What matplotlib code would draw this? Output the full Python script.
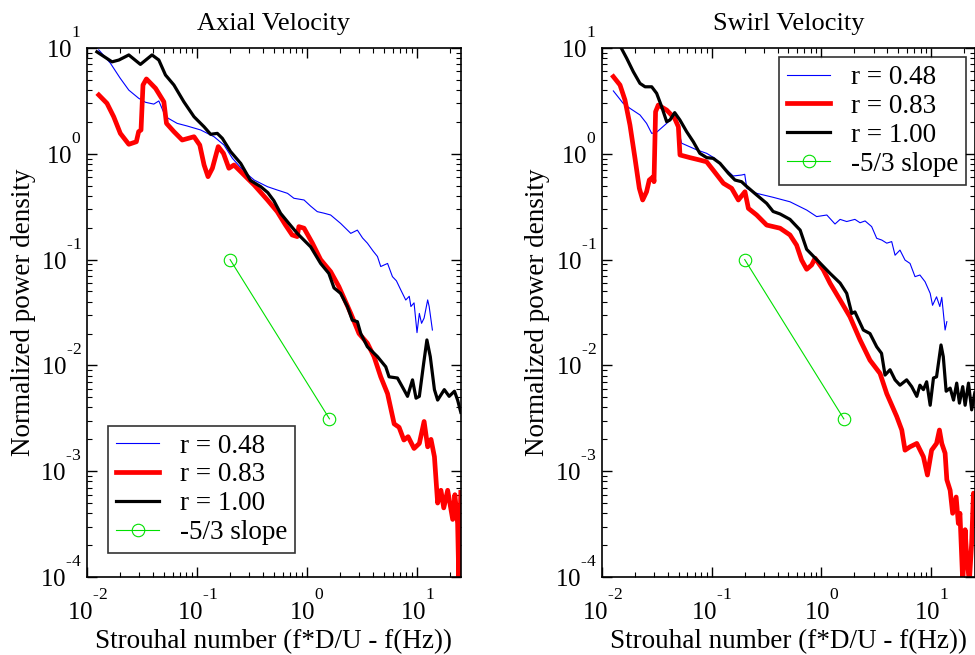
import matplotlib
matplotlib.use("Agg")
from matplotlib import pyplot as plt
from matplotlib.ticker import FuncFormatter
from matplotlib.transforms import ScaledTranslation
import numpy as np

plt.rcParams['font.family'] = ['Liberation Serif', 'DejaVu Serif']
plt.rcParams['mathtext.fontset'] = 'custom'
plt.rcParams['mathtext.rm'] = 'Liberation Serif'
plt.rcParams['mathtext.it'] = 'Liberation Serif:italic'
plt.rcParams['mathtext.bf'] = 'Liberation Serif:bold'

# exponents sit high above the "10" in the original
try:
    import matplotlib._mathtext as _mt
    _mt.FontConstantsBase.sup1 = 1.6
except Exception:
    pass

labels = ["r = 0.48", "r = 0.83", "r = 1.00"]
slope_label = "-5/3 slope"
titles = ["Axial Velocity", "Swirl Velocity"]

# -5/3 reference line
slope_x = [0.2, 1.6]
slope_y = [0.1, 0.003125]

# axial velocity
ax_x048 = [0.0128, 0.0163, 0.020, 0.024, 0.0295, 0.034, 0.0405, 0.045, 0.0518, 0.066, 0.0817,
           0.108, 0.143, 0.176, 0.21, 0.269, 0.331, 0.437, 0.536, 0.665, 0.76, 0.94, 1.08, 1.24,
           1.42, 1.64, 2.02, 2.5, 2.87, 3.2, 3.54, 4.0, 4.37, 4.68, 5.4, 5.98, 6.5, 7.1, 7.9, 8.5,
           8.8, 9.4, 10.0, 10.5, 11.0, 11.6, 12.5, 12.9, 13.8]
ax_y048 = [9.6, 7.2, 5.2, 4.0, 3.35, 3.07, 2.95, 3.16, 2.24, 1.94, 1.83,
           1.68, 1.45, 1.21, 0.906, 0.678, 0.565, 0.489, 0.455, 0.423, 0.38, 0.366, 0.32, 0.284,
           0.275, 0.264, 0.22, 0.177, 0.19, 0.16, 0.143, 0.12, 0.107, 0.086, 0.092, 0.069, 0.063, 0.052, 0.0415, 0.045,
           0.036, 0.039, 0.0204, 0.031, 0.025, 0.028, 0.0416, 0.036, 0.0216]

ax_x083 = [0.0128, 0.0152, 0.0175, 0.0201, 0.024, 0.0281, 0.0295, 0.031, 0.0323, 0.0347, 0.042,
           0.05, 0.0528, 0.0617, 0.0734, 0.094, 0.106, 0.116, 0.126, 0.138, 0.156, 0.174, 0.195,
           0.217, 0.268, 0.331, 0.437, 0.536, 0.638, 0.733, 0.815, 0.843, 0.94, 1.12, 1.33, 1.64,
           1.95, 2.5, 2.97, 3.54, 4.07, 4.68, 5.4, 6.2, 6.87, 7.6, 8.3, 9.4, 10.5, 11.6, 12.5,
           13.4, 14.4, 15.4, 16.5, 17.5, 19.0, 21.1, 22.1, 23.4, 24.0, 25.0]
ax_y083 = [3.6, 3.0, 2.24, 1.56, 1.23, 1.3, 1.62, 1.68, 4.47, 5.1, 4.16,
           3.1, 1.94, 1.62, 1.35, 1.45, 1.21, 0.784, 0.608, 0.73, 1.17, 1.01, 0.73,
           0.784, 0.63, 0.507, 0.366, 0.284, 0.212, 0.171, 0.165, 0.205, 0.198, 0.143, 0.1, 0.077,
           0.0555, 0.031, 0.020, 0.0162, 0.0121, 0.0078, 0.0054, 0.0028, 0.0026, 0.00197, 0.00212, 0.00164, 0.00183, 0.00295, 0.0017,
           0.0020, 0.00137, 0.0005, 0.00066, 0.00045, 0.00066, 0.00035, 0.0006, 0.00032, 0.00009, 0.00063]

ax_x100 = [0.0123, 0.0169, 0.0195, 0.024, 0.0306, 0.039, 0.045, 0.0517, 0.0617, 0.076, 0.094,
           0.116, 0.133, 0.153, 0.17, 0.202, 0.25, 0.306, 0.38, 0.44, 0.5, 0.575, 0.684, 0.815,
           1.08, 1.33, 1.58, 1.76, 2.02, 2.33, 2.58, 2.87, 3.08, 3.54, 4.37, 5.2, 5.57, 6.64, 7.6,
           8.2, 9.1, 9.8, 10.5, 11.5, 12.3, 13.2, 14.4, 15.4, 17.7, 19.6, 21.9, 23.4, 25.0]
ax_y100 = [9.2, 7.4, 7.7, 8.6, 7.0, 8.6, 7.7, 5.56, 4.47, 3.1, 2.24,
           1.8, 1.53, 1.56, 1.4, 1.05, 0.81, 0.56, 0.489, 0.43, 0.36, 0.274, 0.22, 0.177,
           0.132, 0.092, 0.074, 0.054, 0.048, 0.036, 0.0268, 0.0259, 0.020, 0.015, 0.0121, 0.0097, 0.0078, 0.0076, 0.0059,
           0.0051, 0.0073, 0.0049, 0.0051, 0.0105, 0.0174, 0.0121, 0.0059, 0.0047, 0.0059, 0.0051, 0.0057, 0.0047, 0.0036]

# swirl velocity
sw_x048 = [0.0127, 0.0156, 0.018, 0.0222, 0.0255, 0.0284, 0.0315, 0.0389, 0.046, 0.0532, 0.073,
           0.09, 0.107, 0.132, 0.157, 0.187, 0.2, 0.209, 0.257, 0.363, 0.517, 0.734, 0.905, 1.12,
           1.33, 1.48, 1.7, 2.02, 2.25, 2.5, 2.87, 3.19, 3.55, 3.94, 4.37, 4.69, 5.2, 5.78, 6.42,
           7.13, 7.9, 8.8, 9.8, 10.3, 11.2, 12.0, 12.5, 13.4, 13.9]
sw_y048 = [3.93, 3.0, 2.69, 2.33, 1.94, 1.56, 1.6, 1.94, 2.33, 1.26, 1.09,
           1.01, 0.906, 0.73, 0.617, 0.63, 0.64, 0.472, 0.423, 0.388, 0.352, 0.294, 0.255, 0.264,
           0.217, 0.24, 0.229, 0.24, 0.223, 0.232, 0.205, 0.159, 0.153, 0.143, 0.148, 0.11, 0.123, 0.099, 0.092,
           0.069, 0.0715, 0.0618, 0.048, 0.037, 0.0445, 0.036, 0.044, 0.0216, 0.0259]

sw_x083 = [0.0127, 0.0146, 0.0162, 0.018, 0.02, 0.0219, 0.0235, 0.0255, 0.027, 0.0294, 0.0298,
           0.0308, 0.0326, 0.0389, 0.046, 0.0497, 0.0514, 0.0634, 0.078, 0.09, 0.103, 0.128, 0.152,
           0.175, 0.201, 0.216, 0.257, 0.317, 0.42, 0.517, 0.594, 0.66, 0.734, 0.815, 0.875, 1.04,
           1.2, 1.48, 1.82, 2.25, 2.77, 3.42, 3.94, 4.85, 5.4, 5.78, 6.42, 7.4, 8.5, 9.25, 10.1,
           11.2, 11.9, 12.5, 13.4, 13.9, 14.9, 15.7, 16.9, 17.7, 18.3, 19.4, 20.4, 21.1, 22.3,
           23.4, 24.3, 25.0]
sw_y083 = [5.36, 4.47, 3.23, 1.87, 0.906, 0.472, 0.366, 0.438, 0.565, 0.608, 0.545,
           2.5, 2.89, 2.59, 2.16, 1.8, 0.975, 0.92, 0.873, 0.84, 0.703, 0.526, 0.472,
           0.366, 0.438, 0.305, 0.264, 0.212, 0.198, 0.171, 0.137, 0.099, 0.081, 0.089, 0.103, 0.08,
           0.0597, 0.0415, 0.0288, 0.0174, 0.0112, 0.0084, 0.0054, 0.0033, 0.00245, 0.00158, 0.0017, 0.00183, 0.00137, 0.00092, 0.00158,
           0.00183, 0.00245, 0.00183, 0.00148, 0.00083, 0.00066, 0.0004, 0.00057, 0.00032, 0.0004, 0.00009, 0.00028, 0.000155, 0.00009,
           0.00021, 0.00062, 0.00032]

sw_x100 = [0.0137, 0.0168, 0.0193, 0.0222, 0.0247, 0.0284, 0.0315, 0.035, 0.0389, 0.0417, 0.046,
           0.0513, 0.0591, 0.068, 0.078, 0.09, 0.103, 0.119, 0.142, 0.163, 0.187, 0.209, 0.257,
           0.317, 0.363, 0.42, 0.517, 0.64, 0.734, 0.905, 1.2, 1.48, 1.7, 1.89, 2.02, 2.41, 2.77,
           3.19, 3.53, 3.8, 4.22, 4.69, 5.2, 5.98, 6.65, 7.4, 7.9, 8.5, 9.1, 9.8, 10.5, 11.2, 12.3,
           12.9, 13.7, 14.9, 16.0, 17.1, 18.1, 19.4, 20.4, 21.9, 23.4, 25.0]
sw_y100 = [11.9, 8.0, 5.97, 4.63, 4.3, 4.3, 3.73, 2.79, 2.01, 2.09, 2.45,
           2.09, 1.62, 1.3, 1.01, 0.92, 0.906, 0.813, 0.654, 0.565, 0.545, 0.49, 0.408,
           0.34, 0.285, 0.27, 0.24, 0.19, 0.125, 0.1, 0.074, 0.06, 0.048, 0.031, 0.032, 0.0216, 0.020,
           0.015, 0.013, 0.0081, 0.0091, 0.0073, 0.0065, 0.0073, 0.0063, 0.0051, 0.0065, 0.0059, 0.007, 0.0042, 0.0076, 0.0078, 0.0156,
           0.0121, 0.0057, 0.0061, 0.0047, 0.0068, 0.0044, 0.0063, 0.0042, 0.0068, 0.0038, 0.0055]


def pow10(v, pos):
    e = int(round(np.log10(v)))
    return r'$\mathrm{10}^{\text{%d}}$' % e


fig = plt.figure(figsize=(9.75, 6.55), dpi=100)
ax1 = fig.add_axes([0.0892, 0.1191, 0.3836, 0.8076])
ax2 = fig.add_axes([0.6174, 0.1191, 0.3826, 0.8076])

panels = [
    (ax1, titles[0], ax_x048, ax_y048, ax_x083, ax_y083, ax_x100, ax_y100),
    (ax2, titles[1], sw_x048, sw_y048, sw_x083, sw_y083, sw_x100, sw_y100),
]

for ax, title, xb, yb, xr, yr, xk, yk in panels:
    ax.plot(xb, yb, color='#0000ff', lw=0.8, label=labels[0])
    ax.plot(xr, yr, color='#ff0000', lw=3.4, label=labels[1])
    ax.plot(xk, yk, color='black', lw=2.3, label=labels[2])
    ax.plot(slope_x, slope_y, color='#00e000', lw=0.8, marker='o', ms=9,
            mfc='none', mec='#00e000', mew=0.8, label=slope_label)
    ax.set_xscale('log')
    ax.set_yscale('log')
    ax.set_xlim(0.01, 25.1)
    ax.set_ylim(1e-4, 10)
    ax.xaxis.set_major_formatter(FuncFormatter(pow10))
    ax.yaxis.set_major_formatter(FuncFormatter(pow10))
    ax.set_title(title, fontsize=19, pad=13)
    ax.set_xlabel('Strouhal number (f*D/U - f(Hz))', fontsize=19.5)
    ax.set_ylabel('Normalized power density', fontsize=19.5)
    ax.tick_params(which='both', direction='in', top=True, right=True, labelsize=18)
    ax.tick_params(which='major', length=7, width=1.0)
    ax.tick_params(axis='x', which='major', pad=9)
    ax.tick_params(axis='y', which='major', pad=4)
    ax.tick_params(which='minor', length=3.5, width=0.8)
    for s in ax.spines.values():
        s.set_linewidth(1.2)
    ax.xaxis.set_label_coords(0.5, -0.098)

ax1.yaxis.set_label_coords(-0.136, 0.5)
ax2.yaxis.set_label_coords(-0.139, 0.5)

leg_kw = dict(fontsize=19.5, frameon=True, fancybox=False, edgecolor='black',
              handlelength=1.6, handletextpad=0.75, borderaxespad=0,
              labelspacing=0.14, borderpad=0.3)
l1 = ax1.legend(loc='lower left', bbox_to_anchor=(0.056, 0.045), **leg_kw)
l2 = ax2.legend(loc='upper right', bbox_to_anchor=(0.976, 0.983), **leg_kw)
for l in (l1, l2):
    l.get_frame().set_linewidth(1.2)

# keep the "10" of each y label centred on its tick, exponent above it
fig.canvas.draw()
lift = ScaledTranslation(0, 3.6 / 72, fig.dpi_scale_trans)
for ax in (ax1, ax2):
    for t in ax.yaxis.get_major_ticks():
        t.label1.set_transform(t.label1.get_transform() + lift)

plt.savefig('out.png', dpi=100)
